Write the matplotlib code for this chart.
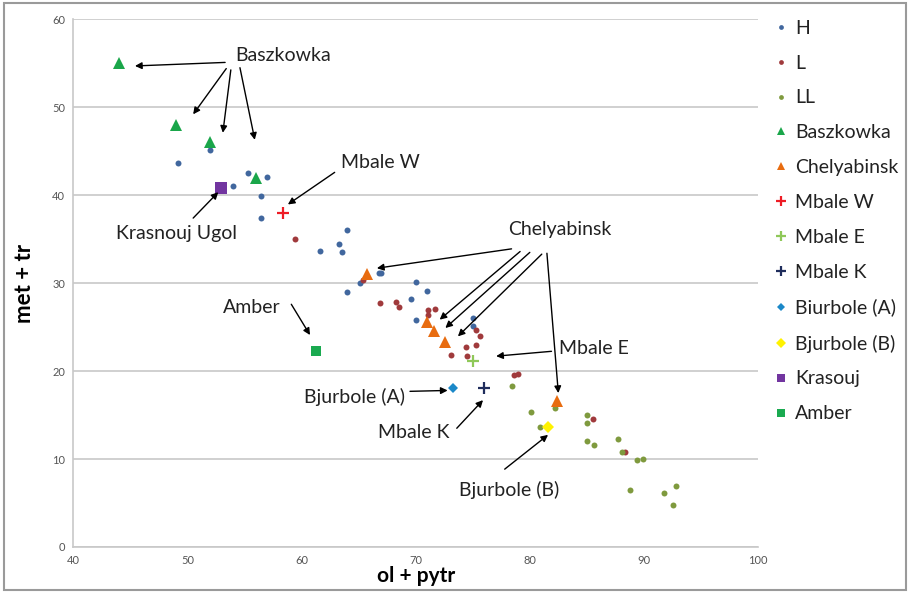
import matplotlib
matplotlib.use("Agg")
import matplotlib.pyplot as plt
from matplotlib.patches import Rectangle

plt.rcParams['font.family'] = ['Lato', 'DejaVu Sans']

# ---- data ----
H_x = [49.2, 52.0, 54.0, 55.3, 57.0, 56.45, 56.45, 61.6, 63.3, 63.5, 64.0, 66.8, 67.0,
       65.1, 64.0, 70.0, 69.6, 71.0, 70.0, 75.0, 75.0]
H_y = [43.7, 45.1, 41.0, 42.5, 42.1, 39.9, 37.4, 33.7, 34.5, 33.5, 36.1, 31.1, 31.1,
       30.0, 29.0, 30.1, 28.2, 29.1, 25.8, 26.0, 25.1]

L_x = [59.4, 65.4, 66.9, 68.3, 68.5, 71.1, 71.7, 71.1, 75.3, 75.6, 75.3, 74.4, 74.5,
       73.1, 78.6, 78.95, 85.5, 88.3]
L_y = [35.0, 30.4, 27.7, 27.9, 27.3, 27.0, 27.1, 26.4, 24.7, 24.0, 23.0, 22.7, 21.7,
       21.8, 19.55, 19.7, 14.6, 10.85]

LL_x = [78.4, 80.1, 82.2, 80.9, 85.0, 85.0, 85.0, 85.65, 87.7, 88.1, 89.4, 89.95,
        88.8, 91.8, 92.8, 92.55]
LL_y = [18.25, 15.3, 15.75, 13.7, 15.05, 14.1, 12.05, 11.6, 12.3, 10.8, 9.9, 10.05,
        6.5, 6.15, 6.95, 4.8]

bask_x = [44.0, 49.0, 52.0, 56.0]
bask_y = [55.0, 48.0, 46.0, 42.0]

chel_x = [65.7, 71.0, 71.6, 72.6, 82.4]
chel_y = [31.0, 25.6, 24.6, 23.3, 16.6]

mbale_w = (58.4, 38.0)
mbale_e = (75.05, 21.2)
mbale_k = (76.0, 18.1)
bjur_a = (73.3, 18.05)
bjur_b = (81.6, 13.7)
krasouj = (52.9, 40.85)
amber = (61.3, 22.3)

fig = plt.figure(figsize=(9.1, 5.93), dpi=100)
ax = fig.add_axes([0.0806, 0.0776, 0.7524, 0.8898])

dot = dict(ls="none", marker="o", ms=4.3, mew=0)
ax.plot(H_x, H_y, color="#41679e", label="H", **dot)
ax.plot(L_x, L_y, color="#a03a3c", label="L", **dot)
ax.plot(LL_x, LL_y, color="#7f9a3e", label="LL", **dot)
ax.plot(bask_x, bask_y, ls="none", marker="^", ms=8, mew=0, color="#1aa64a", label="Baszkowka")
ax.plot(chel_x, chel_y, ls="none", marker="^", ms=8, mew=0, color="#e86c10", label="Chelyabinsk")
ax.plot(*mbale_w, ls="none", marker="+", ms=9, mew=1.6, color="#ee1c25", label="Mbale W")
ax.plot(*mbale_e, ls="none", marker="+", ms=9, mew=1.6, color="#8fc859", label="Mbale E")
ax.plot(*mbale_k, ls="none", marker="+", ms=9, mew=1.6, color="#1f2d5c", label="Mbale K")
ax.plot(*bjur_a, ls="none", marker="D", ms=5.5, mew=0, color="#1b88c8", label="Biurbole (A)")
ax.plot(*bjur_b, ls="none", marker="D", ms=6, mew=0, color="#fff200", label="Bjurbole (B)")
ax.plot(*krasouj, ls="none", marker="s", ms=8, mew=0, color="#7235a0", label="Krasouj")
ax.plot(*amber, ls="none", marker="s", ms=7.5, mew=0, color="#1aaa50", label="Amber")

ax.set_xlim(40, 100)
ax.set_ylim(0, 60)
ax.set_xticks(range(40, 101, 10))
ax.set_yticks(range(0, 61, 10))
ax.yaxis.grid(True, color="#c8c8c8", lw=1.2)
ax.set_axisbelow(True)
for s in ["top", "right"]:
    ax.spines[s].set_visible(False)
for s in ["left", "bottom"]:
    ax.spines[s].set_color("#c8c8c8")
    ax.spines[s].set_linewidth(1.2)
ax.tick_params(length=0, labelsize=8, labelcolor="#555555", pad=6)
ax.set_xlabel("ol + pytr", fontsize=15, fontweight="bold", labelpad=0)
ax.set_ylabel("met + tr", fontsize=16, fontweight="bold", labelpad=12)

# annotations
txt = dict(fontsize=14, ha="center", va="center", color="#222222")
arr = dict(arrowstyle="-|>", color="black", lw=1.0, mutation_scale=10, shrinkA=0, shrinkB=0)

def arrow(start, end):
    ax.annotate("", xy=end, xytext=start, arrowprops=arr)

ax.text(58.4, 55.9, "Baszkowka", **txt)
arrow((53.3, 55.1), (45.4, 54.7))
arrow((53.4, 54.4), (50.5, 49.2))
arrow((53.8, 54.25), (53.1, 47.1))
arrow((54.6, 54.5), (55.9, 46.3))

ax.text(66.9, 43.7, "Mbale W", **txt)
arrow((62.9, 42.6), (58.8, 38.95))

ax.text(49.0, 35.7, "Krasnouj Ugol", **txt)
arrow((50.5, 37.4), (52.7, 40.35))

ax.text(82.65, 36.1, "Chelyabinsk", **txt)
arrow((78.4, 33.9), (66.6, 31.7))
arrow((79.15, 33.6), (72.1, 25.85))
arrow((80.0, 33.5), (72.6, 24.9))
arrow((81.05, 33.3), (73.7, 23.95))
arrow((81.5, 33.4), (82.5, 17.5))

ax.text(85.6, 22.6, "Mbale E", **txt)
arrow((81.9, 22.25), (77.05, 21.7))

ax.text(55.6, 27.2, "Amber", **txt)
arrow((59.1, 27.6), (60.74, 24.1))

ax.text(64.6, 17.1, "Bjurbole (A)", **txt)
arrow((69.5, 17.7), (72.8, 17.8))

ax.text(69.8, 13.0, "Mbale K", **txt)
arrow((73.6, 13.5), (75.9, 16.7))

ax.text(78.2, 6.5, "Bjurbole (B)", **txt)
arrow((77.8, 8.85), (81.6, 12.75))

fig.legend(loc="upper left", bbox_to_anchor=(0.843, 0.98), frameon=False,
           fontsize=14, labelspacing=0.92, handlelength=0.6, handletextpad=0.45,
           borderaxespad=0, markerscale=0.8, labelcolor="#222222")

fig.patches.append(Rectangle((0.004, 0.005), 0.992, 0.99, transform=fig.transFigure,
                             fill=False, edgecolor="#9a9a9a", lw=1.5))

fig.savefig("out.png", dpi=100)
